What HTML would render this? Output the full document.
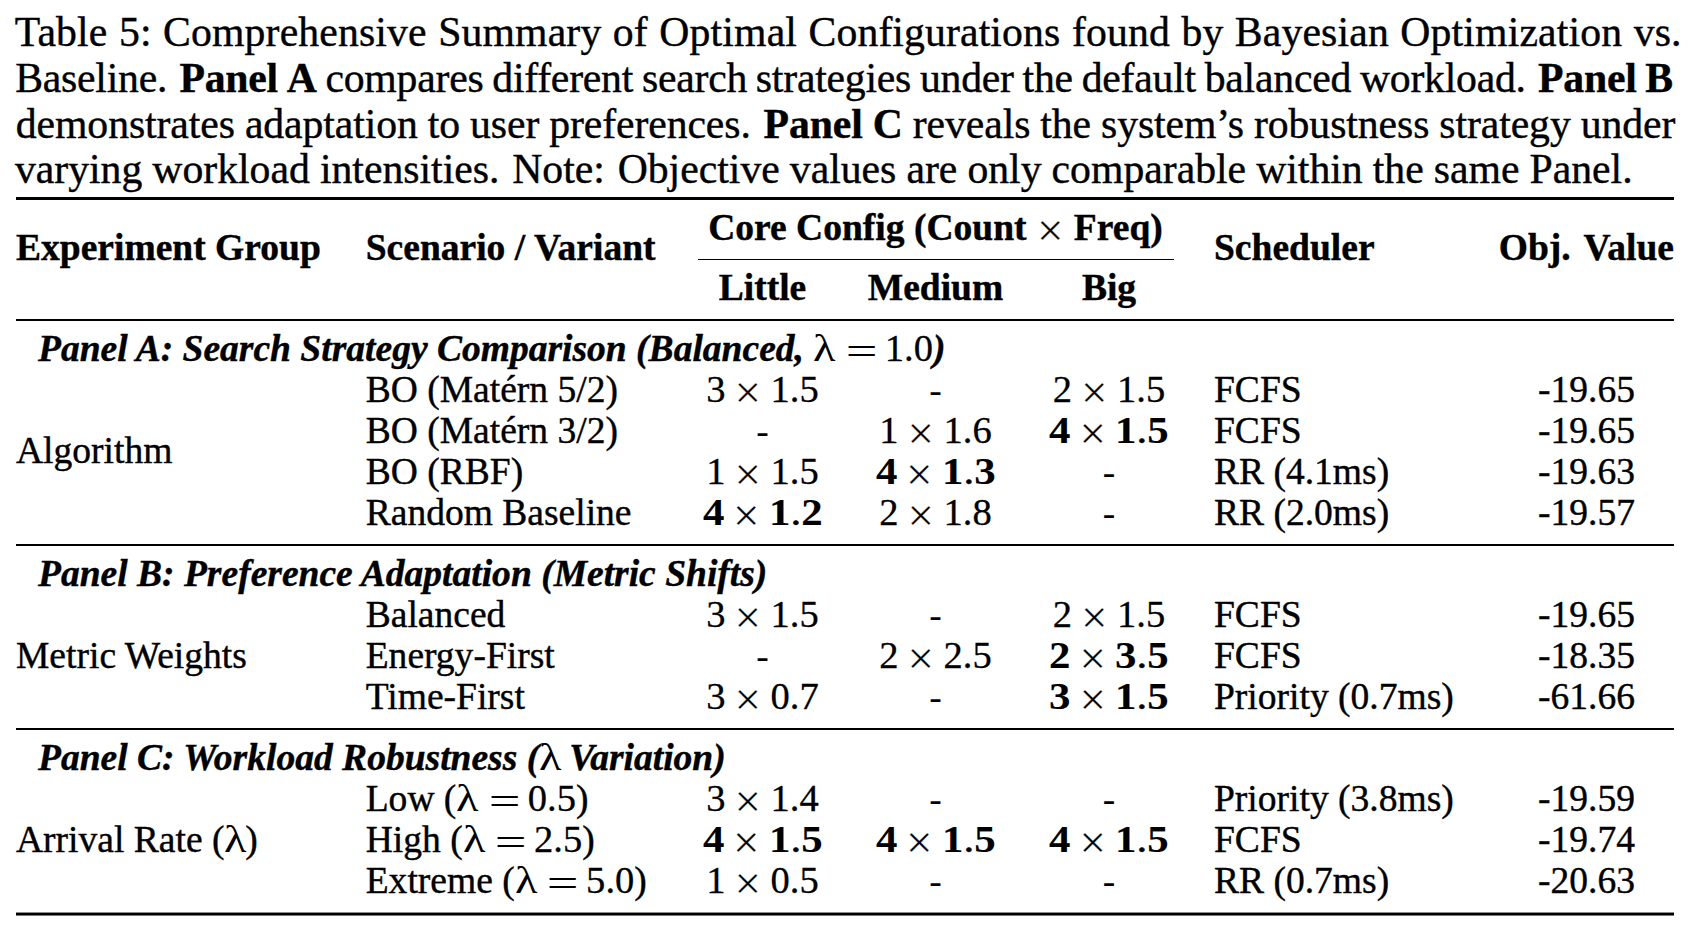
<!DOCTYPE html>
<html lang="en">
<head>
<meta charset="utf-8">
<title>Table 5</title>
<style>
html,body{margin:0;padding:0;background:#fff;}
body{width:1688px;height:940px;position:relative;overflow:hidden;color:#000;
 font-family:"Liberation Serif","Times New Roman",Times,serif;
 -webkit-font-smoothing:antialiased;-webkit-text-stroke:0.4px #000;}
.cap{position:absolute;left:14.7px;font-size:41.71px;line-height:46px;height:46px;white-space:nowrap;}
figure,figcaption{margin:0;padding:0;display:block;}
.t{position:absolute;font-size:37.54px;line-height:40px;height:40px;white-space:nowrap;}
.c{text-align:center;}
.r{text-align:right;}
.rule{position:absolute;background:#000;left:16.0px;width:1658.0px;}
b,.b{font-weight:bold;}
.m{font-size:38.6px;line-height:0;-webkit-text-stroke:0.3px #000;}
.d{position:relative;top:1px;-webkit-text-stroke:0;}
.bp{font-weight:normal;-webkit-text-stroke:0.5px #000;}
.mb{font-size:38.6px;font-weight:bold;display:inline-block;transform:scaleX(1.11);transform-origin:0 50%;line-height:0;-webkit-text-stroke:0.1px #000;}
.x{font-weight:normal;font-style:normal;font-size:47.0px;line-height:0;position:relative;top:6.0px;-webkit-text-stroke:0.2px #fff;}
.pi{font-style:italic;font-weight:bold;}
.lam{font-style:normal;font-weight:normal;font-size:38.6px;line-height:0;display:inline-block;transform:scaleX(1.2);transform-origin:0 50%;-webkit-text-stroke:0;}
.eq{font-style:normal;font-weight:normal;line-height:0;display:inline-block;transform:scaleX(1.5);position:relative;top:3.0px;-webkit-text-stroke:0;}
.n{font-style:normal;font-weight:normal;font-size:38.6px;line-height:0;-webkit-text-stroke:0.3px #000;}
</style>
</head>
<body>
<figure>
<figcaption>
<div class="cap" id="cap0" style="top:9.00px;left:14.70px;letter-spacing:0.150px">Table<span style="word-spacing:0.84px"> </span>5:<span style="word-spacing:0.84px"> </span>Comprehensive<span style="word-spacing:0.84px"> </span>Summary<span style="word-spacing:0.84px"> </span>of<span style="word-spacing:0.84px"> </span>Optimal<span style="word-spacing:0.84px"> </span>Con<span style="letter-spacing:0">fi</span>gurations<span style="word-spacing:0.84px"> </span>found<span style="word-spacing:0.84px"> </span>by<span style="word-spacing:0.84px"> </span>Bayesian<span style="word-spacing:0.84px"> </span>Optimization<span style="word-spacing:0.84px"> </span>vs.</div>
<div class="cap" id="cap1" style="top:55.00px;left:15.20px;letter-spacing:-0.220px">Baseline.<span style="word-spacing:2.02px"> </span><b>Panel<span style="word-spacing:-1.44px"> </span>A</b><span style="word-spacing:-1.44px"> </span>compares<span style="word-spacing:-1.44px"> </span>different<span style="word-spacing:-1.44px"> </span>search<span style="word-spacing:-1.44px"> </span>strategies<span style="word-spacing:-1.44px"> </span>under<span style="word-spacing:-1.44px"> </span>the<span style="word-spacing:-1.44px"> </span>default<span style="word-spacing:-1.44px"> </span>balanced<span style="word-spacing:-1.44px"> </span>workload.<span style="word-spacing:2.02px"> </span><b>Panel<span style="word-spacing:-1.44px"> </span>B</b></div>
<div class="cap" id="cap2" style="top:101.00px;left:15.80px;letter-spacing:-0.080px">demonstrates<span style="word-spacing:-0.37px"> </span>adaptation<span style="word-spacing:-0.37px"> </span>to<span style="word-spacing:-0.37px"> </span>user<span style="word-spacing:-0.37px"> </span>preferences.<span style="word-spacing:2.38px"> </span><b>Panel<span style="word-spacing:-0.37px"> </span>C</b><span style="word-spacing:-0.37px"> </span>reveals<span style="word-spacing:-0.37px"> </span>the<span style="word-spacing:-0.37px"> </span>system’s<span style="word-spacing:-0.37px"> </span>robustness<span style="word-spacing:-0.37px"> </span>strategy<span style="word-spacing:-0.37px"> </span>under</div>
<div class="cap" id="cap3" style="top:146.00px;left:14.90px;letter-spacing:0.000px">varying<span style="word-spacing:-0.38px"> </span>workload<span style="word-spacing:-0.38px"> </span>intensities.<span style="word-spacing:2.38px"> </span>Note:<span style="word-spacing:2.31px"> </span>Objective<span style="word-spacing:-0.38px"> </span>values<span style="word-spacing:-0.38px"> </span>are<span style="word-spacing:-0.38px"> </span>only<span style="word-spacing:-0.38px"> </span>comparable<span style="word-spacing:-0.38px"> </span>within<span style="word-spacing:-0.38px"> </span>the<span style="word-spacing:-0.38px"> </span>same<span style="word-spacing:-0.38px"> </span>Panel.</div>
</figcaption>
<div role="table">
<div class="rule" style="top:197.00px;height:3.00px;"></div>
<div class="rule" style="top:319.00px;height:2.00px;"></div>
<div class="rule" style="top:259.00px;height:1.00px;left:698.00px;width:476.00px;"></div>
<div class="rule" style="top:544.00px;height:2.00px;"></div>
<div class="rule" style="top:728.00px;height:2.00px;"></div>
<div class="rule" style="top:912.00px;height:1.00px;background:#8c8c8c;"></div>
<div class="rule" style="top:913.00px;height:2.00px;"></div>
<div class="rule" style="top:915.00px;height:1.00px;background:#777;"></div>
<div class="t" style="top:228.00px;left:16.00px;"><b>Experiment Group</b></div>
<div class="t" style="top:228.00px;left:365.70px;"><b>Scenario / Variant</b></div>
<div class="t c" style="top:208.00px;left:635.50px;width:600px;"><b>Core Config (Count <span class="x" style="margin:0 1px">×</span> Freq)</b></div>
<div class="t c" style="top:268.00px;left:642.50px;width:240px;"><b>Little</b></div>
<div class="t c" style="top:268.00px;left:815.50px;width:240px;"><b>Medium</b></div>
<div class="t c" style="top:268.00px;left:989.00px;width:240px;"><b>Big</b></div>
<div class="t" style="top:228.00px;left:1214.00px;"><b>Scheduler</b></div>
<div class="t r" style="top:228.00px;left:1434.00px;width:240px;"><b>Obj.<span style="word-spacing:3.5px"> </span>Value</b></div>
<div class="t" style="top:329.00px;left:38.00px;"><span class="pi">Panel A: Search Strategy Comparison (Balanced, <span class="lam" style="margin-right:4.00px">λ</span><span class="eq" style="margin:0 12.50px 0 15.00px">=</span><span class="n">1.0</span>)</span></div>
<div class="t" style="top:431.00px;left:16.00px;">Algorithm</div>
<div class="t" style="top:370.00px;left:365.70px;">BO (Matérn 5/2)</div>
<div class="t c" style="top:370.00px;left:642.50px;width:240px;"><span class="m">3</span><span class="x" style="margin:0 9.50px 0 9.00px">×</span><span class="m">1.5</span></div>
<div class="t c" style="top:370.00px;left:815.50px;width:240px;"><span class="d">-</span></div>
<div class="t c" style="top:370.00px;left:989.00px;width:240px;"><span class="m">2</span><span class="x" style="margin:0 9.50px 0 9.00px">×</span><span class="m">1.5</span></div>
<div class="t" style="top:370.00px;left:1214.00px;">FCFS</div>
<div class="t c" style="top:370.00px;left:1466.50px;width:240px;">-19.65</div>
<div class="t" style="top:411.00px;left:365.70px;">BO (Matérn 3/2)</div>
<div class="t c" style="top:411.00px;left:642.50px;width:240px;"><span class="d">-</span></div>
<div class="t c" style="top:411.00px;left:815.50px;width:240px;"><span class="m">1</span><span class="x" style="margin:0 9.50px 0 9.00px">×</span><span class="m">1.6</span></div>
<div class="t c" style="top:411.00px;left:989.00px;width:240px;"><span class="mb" style="margin-right:2.12px">4</span><span class="x" style="margin:0 9.30px 0 9.20px">×</span><span class="mb" style="margin-right:5.31px">1<span class="bp">.</span>5</span></div>
<div class="t" style="top:411.00px;left:1214.00px;">FCFS</div>
<div class="t c" style="top:411.00px;left:1466.50px;width:240px;">-19.65</div>
<div class="t" style="top:452.00px;left:365.70px;">BO (RBF)</div>
<div class="t c" style="top:452.00px;left:642.50px;width:240px;"><span class="m">1</span><span class="x" style="margin:0 9.50px 0 9.00px">×</span><span class="m">1.5</span></div>
<div class="t c" style="top:452.00px;left:815.50px;width:240px;"><span class="mb" style="margin-right:2.12px">4</span><span class="x" style="margin:0 9.30px 0 9.20px">×</span><span class="mb" style="margin-right:5.31px">1<span class="bp">.</span>3</span></div>
<div class="t c" style="top:452.00px;left:989.00px;width:240px;"><span class="d">-</span></div>
<div class="t" style="top:452.00px;left:1214.00px;">RR (4.1ms)</div>
<div class="t c" style="top:452.00px;left:1466.50px;width:240px;">-19.63</div>
<div class="t" style="top:493.00px;left:365.70px;">Random Baseline</div>
<div class="t c" style="top:493.00px;left:642.50px;width:240px;"><span class="mb" style="margin-right:2.12px">4</span><span class="x" style="margin:0 9.30px 0 9.20px">×</span><span class="mb" style="margin-right:5.31px">1<span class="bp">.</span>2</span></div>
<div class="t c" style="top:493.00px;left:815.50px;width:240px;"><span class="m">2</span><span class="x" style="margin:0 9.50px 0 9.00px">×</span><span class="m">1.8</span></div>
<div class="t c" style="top:493.00px;left:989.00px;width:240px;"><span class="d">-</span></div>
<div class="t" style="top:493.00px;left:1214.00px;">RR (2.0ms)</div>
<div class="t c" style="top:493.00px;left:1466.50px;width:240px;">-19.57</div>
<div class="t" style="top:554.00px;left:38.00px;"><span class="pi">Panel B: Preference Adaptation (Metric Shifts)</span></div>
<div class="t" style="top:636.00px;left:16.00px;">Metric Weights</div>
<div class="t" style="top:595.00px;left:365.70px;">Balanced</div>
<div class="t c" style="top:595.00px;left:642.50px;width:240px;"><span class="m">3</span><span class="x" style="margin:0 9.50px 0 9.00px">×</span><span class="m">1.5</span></div>
<div class="t c" style="top:595.00px;left:815.50px;width:240px;"><span class="d">-</span></div>
<div class="t c" style="top:595.00px;left:989.00px;width:240px;"><span class="m">2</span><span class="x" style="margin:0 9.50px 0 9.00px">×</span><span class="m">1.5</span></div>
<div class="t" style="top:595.00px;left:1214.00px;">FCFS</div>
<div class="t c" style="top:595.00px;left:1466.50px;width:240px;">-19.65</div>
<div class="t" style="top:636.00px;left:365.70px;">Energy-First</div>
<div class="t c" style="top:636.00px;left:642.50px;width:240px;"><span class="d">-</span></div>
<div class="t c" style="top:636.00px;left:815.50px;width:240px;"><span class="m">2</span><span class="x" style="margin:0 9.50px 0 9.00px">×</span><span class="m">2.5</span></div>
<div class="t c" style="top:636.00px;left:989.00px;width:240px;"><span class="mb" style="margin-right:2.12px">2</span><span class="x" style="margin:0 9.30px 0 9.20px">×</span><span class="mb" style="margin-right:5.31px">3<span class="bp">.</span>5</span></div>
<div class="t" style="top:636.00px;left:1214.00px;">FCFS</div>
<div class="t c" style="top:636.00px;left:1466.50px;width:240px;">-18.35</div>
<div class="t" style="top:677.00px;left:365.70px;">Time-First</div>
<div class="t c" style="top:677.00px;left:642.50px;width:240px;"><span class="m">3</span><span class="x" style="margin:0 9.50px 0 9.00px">×</span><span class="m">0.7</span></div>
<div class="t c" style="top:677.00px;left:815.50px;width:240px;"><span class="d">-</span></div>
<div class="t c" style="top:677.00px;left:989.00px;width:240px;"><span class="mb" style="margin-right:2.12px">3</span><span class="x" style="margin:0 9.30px 0 9.20px">×</span><span class="mb" style="margin-right:5.31px">1<span class="bp">.</span>5</span></div>
<div class="t" style="top:677.00px;left:1214.00px;">Priority (0.7ms)</div>
<div class="t c" style="top:677.00px;left:1466.50px;width:240px;">-61.66</div>
<div class="t" style="top:738.00px;left:38.00px;"><span class="pi">Panel C: Workload Robustness (<span class="lam" style="margin-right:2px">λ</span> Variation)</span></div>
<div class="t" style="top:820.00px;left:16.00px;">Arrival Rate (<span class="lam" style="margin-right:2px">λ</span>)</div>
<div class="t" style="top:779.00px;left:365.70px;">Low (<span class="lam" style="margin-right:4.00px">λ</span><span class="eq" style="margin:0 12.50px 0 15.00px">=</span><span class="n">0.5</span>)</div>
<div class="t c" style="top:779.00px;left:642.50px;width:240px;"><span class="m">3</span><span class="x" style="margin:0 9.50px 0 9.00px">×</span><span class="m">1.4</span></div>
<div class="t c" style="top:779.00px;left:815.50px;width:240px;"><span class="d">-</span></div>
<div class="t c" style="top:779.00px;left:989.00px;width:240px;"><span class="d">-</span></div>
<div class="t" style="top:779.00px;left:1214.00px;">Priority (3.8ms)</div>
<div class="t c" style="top:779.00px;left:1466.50px;width:240px;">-19.59</div>
<div class="t" style="top:820.00px;left:365.70px;">High (<span class="lam" style="margin-right:4.00px">λ</span><span class="eq" style="margin:0 12.50px 0 15.00px">=</span><span class="n">2.5</span>)</div>
<div class="t c" style="top:820.00px;left:642.50px;width:240px;"><span class="mb" style="margin-right:2.12px">4</span><span class="x" style="margin:0 9.30px 0 9.20px">×</span><span class="mb" style="margin-right:5.31px">1<span class="bp">.</span>5</span></div>
<div class="t c" style="top:820.00px;left:815.50px;width:240px;"><span class="mb" style="margin-right:2.12px">4</span><span class="x" style="margin:0 9.30px 0 9.20px">×</span><span class="mb" style="margin-right:5.31px">1<span class="bp">.</span>5</span></div>
<div class="t c" style="top:820.00px;left:989.00px;width:240px;"><span class="mb" style="margin-right:2.12px">4</span><span class="x" style="margin:0 9.30px 0 9.20px">×</span><span class="mb" style="margin-right:5.31px">1<span class="bp">.</span>5</span></div>
<div class="t" style="top:820.00px;left:1214.00px;">FCFS</div>
<div class="t c" style="top:820.00px;left:1466.50px;width:240px;">-19.74</div>
<div class="t" style="top:861.00px;left:365.70px;">Extreme (<span class="lam" style="margin-right:4.00px">λ</span><span class="eq" style="margin:0 12.50px 0 15.00px">=</span><span class="n">5.0</span>)</div>
<div class="t c" style="top:861.00px;left:642.50px;width:240px;"><span class="m">1</span><span class="x" style="margin:0 9.50px 0 9.00px">×</span><span class="m">0.5</span></div>
<div class="t c" style="top:861.00px;left:815.50px;width:240px;"><span class="d">-</span></div>
<div class="t c" style="top:861.00px;left:989.00px;width:240px;"><span class="d">-</span></div>
<div class="t" style="top:861.00px;left:1214.00px;">RR (0.7ms)</div>
<div class="t c" style="top:861.00px;left:1466.50px;width:240px;">-20.63</div>
</div>
</figure>
</body>
</html>
